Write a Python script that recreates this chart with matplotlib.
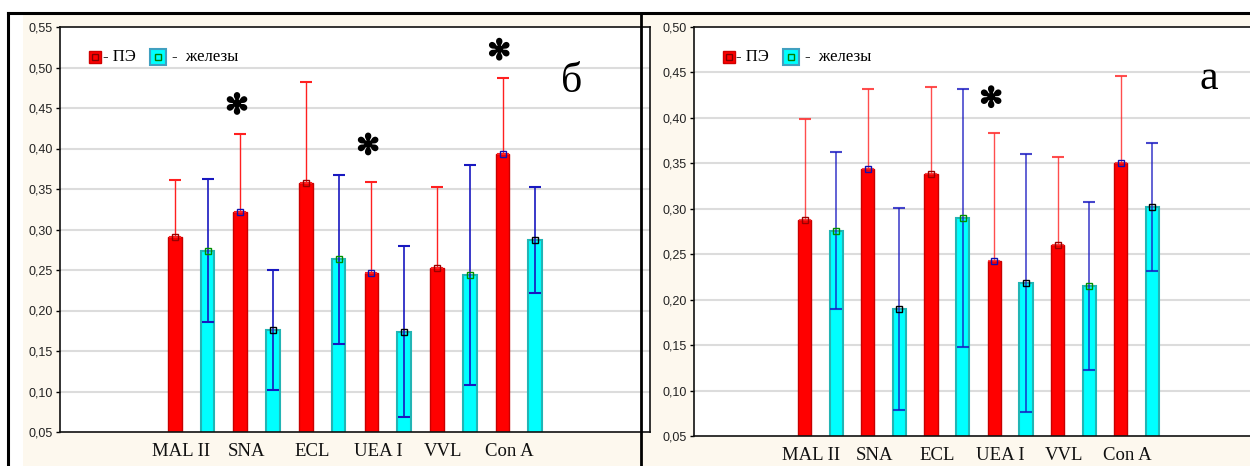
import matplotlib.pyplot as plt
import matplotlib.patheffects as pe_fx
import numpy as np
from matplotlib.patches import Rectangle
from matplotlib.lines import Line2D

# --- данные ---
lectins = ['MAL II', 'SNA', 'ECL', 'UEA I', 'VVL', 'Con A']

# панель "б"
b_pe = [0.291, 0.321, 0.358, 0.246, 0.252, 0.393]
b_pe_err = [0.070, 0.097, 0.124, 0.113, 0.100, 0.094]
b_gl = [0.274, 0.176, 0.263, 0.174, 0.244, 0.287]
b_gl_err = [0.088, 0.074, 0.104, 0.106, 0.136, 0.066]
b_star_lectins = ['SNA', 'UEA I', 'Con A']
b_star_y = [0.453, 0.403, 0.520]
b_yticks = [0.05, 0.10, 0.15, 0.20, 0.25, 0.30, 0.35, 0.40, 0.45, 0.50, 0.55]

# панель "а"
a_pe = [0.288, 0.344, 0.338, 0.242, 0.260, 0.350]
a_pe_err = [0.111, 0.088, 0.096, 0.141, 0.097, 0.096]
a_gl = [0.276, 0.190, 0.290, 0.218, 0.215, 0.302]
a_gl_err = [0.086, 0.111, 0.142, 0.142, 0.092, 0.070]
a_star_lectins = ['UEA I']
a_star_y = [0.421]
a_yticks = [0.05, 0.10, 0.15, 0.20, 0.25, 0.30, 0.35, 0.40, 0.45, 0.50]

# цвета маркеров на вершинах столбиков (как в Statistica)
pe_mark = ['#990000', '#1010B0', '#990000', '#1010B0', '#990000', '#1010B0']
gl_mark = ['#009000', '#000000', '#009000', '#000000', '#009000', '#000000']

W, H = 1250, 466
BEIGE = '#FDF8EE'
SERIF = ['Liberation Serif', 'DejaVu Serif']


def px_axes(fig, x0, y0, x1, y1):
    # прямоугольник в пикселях -> доли фигуры
    return fig.add_axes([x0 / W, 1 - y1 / H, (x1 - x0) / W, (y1 - y0) / H])


def draw_panel(ax, pe, pe_err, gl, gl_err, yticks, star_lectins, star_y,
               letter, leg_x, err_alpha):
    x = np.arange(len(lectins))
    w = 0.21
    off = 0.25

    ax.set_facecolor('white')
    for t in yticks[1:-1]:
        ax.axhline(t, color='#DCDCDC', lw=1.5, zorder=0)

    ax.bar(x - off, pe, w, color='#FF0000', edgecolor='#C80000', lw=1, zorder=2)
    ax.bar(x + off, gl, w, color='#00FFFF', edgecolor='#22B5B5', lw=1.5, zorder=2)

    # у красных столбиков нижний ус сливается со столбиком - рисуем только верхний
    ax.errorbar(x - off, pe, yerr=[np.zeros(len(pe)), pe_err], fmt='none', ecolor='#FF2020',
                elinewidth=1, capsize=4, capthick=1.5, alpha=err_alpha, zorder=3)
    ax.errorbar(x + off, gl, yerr=gl_err, fmt='none', ecolor='#1818C0',
                elinewidth=1.2, capsize=4, capthick=1.5, alpha=err_alpha, zorder=3)

    for i in range(len(lectins)):
        ax.plot(x[i] - off, pe[i], 's', ms=5, mfc='none', mec=pe_mark[i], mew=1, zorder=4)
        ax.plot(x[i] + off, gl[i], 's', ms=5, mfc='none', mec=gl_mark[i], mew=1, zorder=4)

    for name, sy in zip(star_lectins, star_y):
        ax.text(lectins.index(name) - 0.3, sy, '\u273B', fontsize=20,
                family='DejaVu Sans', ha='center', va='center', zorder=5,
                path_effects=[pe_fx.withStroke(linewidth=1.3, foreground='black')])

    ax.set_xlim(-2, 7)
    ax.set_ylim(yticks[0], yticks[-1])
    ax.set_yticks(yticks)
    ax.set_yticklabels([f'{t:.2f}'.replace('.', ',') for t in yticks],
                       family='Liberation Sans', fontsize=9, color='#222222')
    ax.tick_params(axis='y', length=3, width=1, pad=2)
    ax.set_xticks(x - 0.15)
    ax.set_xticklabels(lectins, family=SERIF, fontsize=13.5, color='#111111')
    ax.tick_params(axis='x', length=0, pad=8)
    for s in ax.spines.values():
        s.set_linewidth(1.2)
        s.set_color('#111111')

    # легенда
    lx1, lx2, lx3, lx4 = leg_x
    ly = 0.927
    ax.plot(lx1, ly, 's', ms=9, mfc='#FF0000', mec='#D00000', transform=ax.transAxes, clip_on=False)
    ax.plot(lx1, ly, 's', ms=4, mfc='none', mec='#800000', mew=1, transform=ax.transAxes, clip_on=False)
    ax.text(lx2, ly, '- ПЭ', transform=ax.transAxes, family=SERIF, fontsize=12,
            va='center', ha='left')
    ax.plot(lx3, ly, 's', ms=11, mfc='#00FFFF', mec='#40A0C0', mew=1.5, transform=ax.transAxes, clip_on=False)
    ax.plot(lx3, ly, 's', ms=4, mfc='none', mec='#008000', mew=1, transform=ax.transAxes, clip_on=False)
    ax.text(lx4, ly, '-  железы', transform=ax.transAxes, family=SERIF, fontsize=12,
            va='center', ha='left')

    ax.text(letter[1], letter[2], letter[0], transform=ax.transAxes, family=SERIF,
            fontsize=30, ha='center', va='baseline')


fig = plt.figure(figsize=(12.5, 4.66), dpi=100)
fig.patch.set_facecolor('white')

# фон панелей
fig.patches.append(Rectangle((23 / W, 0), (641 - 23) / W, 1 - 13 / H,
                             transform=fig.transFigure, facecolor=BEIGE,
                             edgecolor='none', zorder=-5))
fig.patches.append(Rectangle((641 / W, 0), (W - 641) / W, 1 - 13 / H,
                             transform=fig.transFigure, facecolor=BEIGE,
                             edgecolor='none', zorder=-5))

ax_b = px_axes(fig, 60, 27, 650, 432)
ax_a = px_axes(fig, 694, 27, 1263, 436)

draw_panel(ax_b, b_pe, b_pe_err, b_gl, b_gl_err, b_yticks, b_star_lectins, b_star_y,
           ('б', 0.868, 0.84), (0.059, 0.073, 0.166, 0.19), 1.0)
draw_panel(ax_a, a_pe, a_pe_err, a_gl, a_gl_err, a_yticks, a_star_lectins, a_star_y,
           ('а', 0.904, 0.848), (0.061, 0.074, 0.170, 0.195), 0.8)

# рамки
for xs, ys, lw in [([8 / W, 1], [1 - 13 / H, 1 - 13 / H], 2.2),
                   ([8 / W, 8 / W], [0, 1 - 13 / H], 2.2),
                   ([641 / W, 641 / W], [0, 1 - 13 / H], 2.0)]:
    fig.lines.append(Line2D(xs, ys, transform=fig.transFigure, color='black',
                            lw=lw, zorder=10))

plt.savefig('out.png', dpi=100)
